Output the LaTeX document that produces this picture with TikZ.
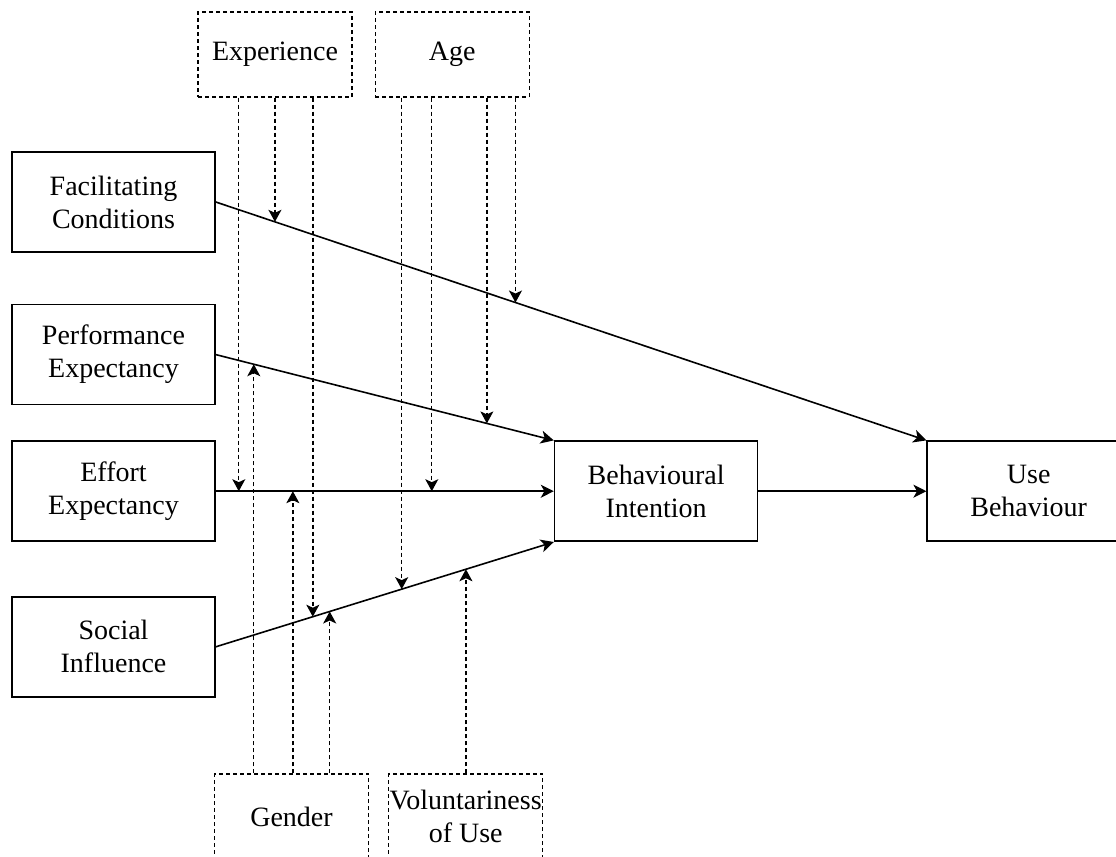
\documentclass[tikz,border=0pt]{standalone}
\usepackage{fontspec}
\setmainfont{Liberation Serif}
\usetikzlibrary{arrows.meta,positioning}

\begin{document}
\begin{tikzpicture}[
  x=0.5pt, y=-0.5pt,
  font=\fontsize{14}{16.5}\selectfont,
  line/.style={draw, -{Stealth[length=6.5pt,width=6.5pt,inset=1.8pt]}, line width=0.8pt},
  modline/.style={draw, dash pattern=on 2pt off 1.5pt, line width=0.7pt,
              -{Stealth[length=6pt,width=6.5pt,inset=1.5pt]}},
  box/.style={rectangle, draw, line width=0.8pt, align=center, inner sep=1pt,
              minimum width=101.5pt, minimum height=50pt},
  modbox/.style={rectangle, draw, dash pattern=on 2pt off 1.5pt, line width=0.6pt,
              align=center, inner sep=0pt, minimum width=77pt, minimum height=42.5pt}
]
\useasboundingbox (0,0) rectangle (1116,857);

% =======================================================
%                     CONSTRUCTS
% =======================================================
\node[box] (fc) at (113.5,202) {Facilitating\\Conditions};
\node[box, below=25.5pt of fc] (pe) {Performance\\Expectancy};
\node[box, below=17.5pt of pe] (ee) {Effort\\Expectancy};
\node[box, below=27pt of ee] (si) {Social\\Influence};

\node[box, right=169pt of ee] (bi) {Behavioural\\Intention};
\node[box, right=84pt of bi] (ub) {Use\\Behaviour};

% Moderators (top and bottom)
\node[modbox] (exp) at (275,54.5) {Experience};
\node[modbox, right=11pt of exp] (age) {Age};
\node[modbox] (gen) at (291.5,816.5) {Gender};
\node[modbox, right=9.5pt of gen] (vol) {Voluntariness\\of Use};

% =======================================================
%                     MAIN PATHS
% =======================================================
\draw[line] (fc.east) --
  coordinate[pos=0.0832] (fcE)
  coordinate[pos=0.4217] (fcA)
(ub.north west);

\draw[line] (pe.east) --
  coordinate[pos=0.1124] (peG)
  coordinate[pos=0.802] (peA)
(bi.north west);

\draw[line] (ee.east) --
  coordinate[pos=0.068] (eeE)
  coordinate[pos=0.228] (eeG)
  coordinate[pos=0.639] (eeA)
(bi.west);

\draw[line] (si.east) --
  coordinate[pos=0.287] (siE)
  coordinate[pos=0.337] (siG)
  coordinate[pos=0.550] (siA)
  coordinate[pos=0.740] (siV)
(bi.south west);

\draw[line] (bi.east) -- (ub.west);

% =======================================================
%                     MODERATING EFFECTS
% =======================================================

% Experience
\draw[modline] (eeE |- exp.south) -- (eeE);
\draw[modline] (fcE |- exp.south) -- (fcE);
\draw[modline] (siE |- exp.south) -- (siE);

% Age
\draw[modline] (siA |- age.south) -- (siA);
\draw[modline] (eeA |- age.south) -- (eeA);
\draw[modline] (peA |- age.south) -- (peA);
\draw[modline] (fcA |- age.south) -- (fcA);

% Gender
\draw[modline] (peG |- gen.north) -- (peG);
\draw[modline] (eeG |- gen.north) -- (eeG);
\draw[modline] (siG |- gen.north) -- (siG);

% Voluntariness of Use
\draw[modline] (siV |- vol.north) -- (siV);

\end{tikzpicture}
\end{document}
